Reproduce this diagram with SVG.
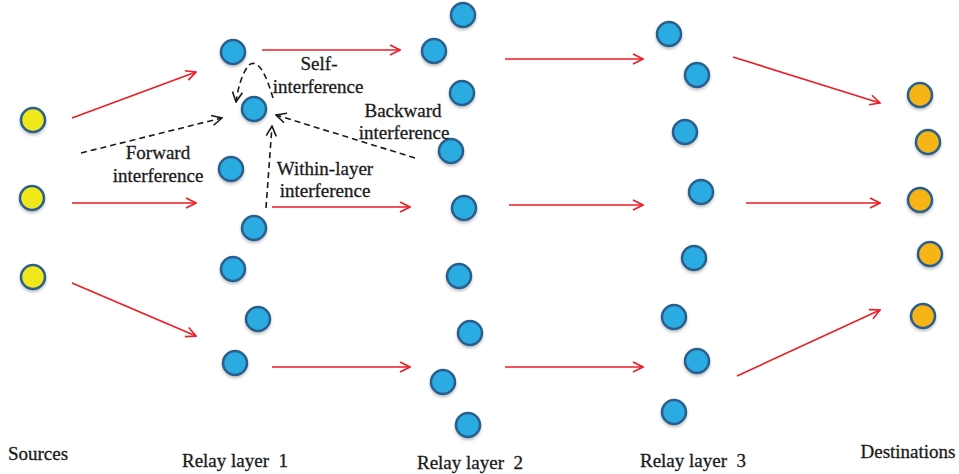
<svg xmlns="http://www.w3.org/2000/svg" width="959" height="474" viewBox="0 0 959 474">
<style>
.n{stroke:#2b5f8c;stroke-width:2.5}
.b{fill:#29abe2}
.y{fill:#f1e81c}
.o{fill:#f7b415}
.r{stroke:#ec1c24;stroke-width:1.6;fill:none;marker-end:url(#ar)}
.d{stroke:#1a1a1a;stroke-width:1.6;fill:none;stroke-dasharray:6 4;marker-end:url(#ad)}
.t{font-size:19px;fill:#1a1a1a;text-anchor:middle;stroke:#1a1a1a;stroke-width:0.3}
</style>
<defs>
<marker id="ar" viewBox="0 0 12 12" refX="11" refY="6" markerWidth="12" markerHeight="12" markerUnits="userSpaceOnUse" orient="auto"><path d="M1,1 L11,6 L1,11" fill="none" stroke="#ec1c24" stroke-width="1.6"/></marker>
<marker id="ad" viewBox="0 0 12 12" refX="11" refY="6" markerWidth="12" markerHeight="12" markerUnits="userSpaceOnUse" orient="auto"><path d="M1,1 L11,6 L1,11" fill="none" stroke="#1a1a1a" stroke-width="1.6"/></marker>
<filter id="sh" x="-50%" y="-50%" width="200%" height="200%"><feGaussianBlur in="SourceAlpha" stdDeviation="1.5"/><feOffset dx="0" dy="1.5"/><feComponentTransfer><feFuncA type="linear" slope="0.25"/></feComponentTransfer><feMerge><feMergeNode/><feMergeNode in="SourceGraphic"/></feMerge></filter>
</defs>
<rect width="959" height="474" fill="#fff"/>
<g id="connectors">
<path class="r" d="M72,118 L196,72"/>
<path class="r" d="M72,203 L196,203"/>
<path class="r" d="M72,283 L196,336"/>
<path class="r" d="M262,50 L400,50"/>
<path class="r" d="M272,207 L410,207"/>
<path class="r" d="M272,367 L410,367"/>
<path class="r" d="M505,59 L643,59"/>
<path class="r" d="M509,205 L643,205"/>
<path class="r" d="M505,367 L643,367"/>
<path class="r" d="M733,57 L880,103"/>
<path class="r" d="M746,203 L880,203"/>
<path class="r" d="M737,376 L880,310"/>
<path class="d" d="M81,153 L222,118"/>
<path class="d" d="M273,98 C266,74 258,58 249,65 C242,73 238,88 236,102"/>
<path class="d" d="M415,158 L276,115"/>
<path class="d" d="M266,208 L272,126"/>
</g>
<g id="sources" filter="url(#sh)">
<circle id="s1" class="n y" cx="33" cy="120" r="12"/>
<circle id="s2" class="n y" cx="32" cy="198" r="12"/>
<circle id="s3" class="n y" cx="33" cy="277" r="12"/>
</g>
<g id="relay1" filter="url(#sh)">
<circle id="r1a" class="n b" cx="233" cy="52" r="12"/>
<circle id="r1b" class="n b" cx="254" cy="109" r="12"/>
<circle id="r1c" class="n b" cx="231" cy="169" r="12"/>
<circle id="r1d" class="n b" cx="254" cy="228" r="12"/>
<circle id="r1e" class="n b" cx="233" cy="269" r="12"/>
<circle id="r1f" class="n b" cx="258" cy="319" r="12"/>
<circle id="r1g" class="n b" cx="235" cy="363" r="12"/>
</g>
<g id="relay2" filter="url(#sh)">
<circle id="r2a" class="n b" cx="463" cy="15" r="12"/>
<circle id="r2b" class="n b" cx="434" cy="51" r="12"/>
<circle id="r2c" class="n b" cx="462" cy="93" r="12"/>
<circle id="r2d" class="n b" cx="451" cy="151" r="12"/>
<circle id="r2e" class="n b" cx="464" cy="208" r="12"/>
<circle id="r2f" class="n b" cx="459" cy="276" r="12"/>
<circle id="r2g" class="n b" cx="470" cy="333" r="12"/>
<circle id="r2h" class="n b" cx="443" cy="382" r="12"/>
<circle id="r2i" class="n b" cx="468" cy="425" r="12"/>
</g>
<g id="relay3" filter="url(#sh)">
<circle id="r3a" class="n b" cx="669" cy="34" r="12"/>
<circle id="r3b" class="n b" cx="697" cy="75" r="12"/>
<circle id="r3c" class="n b" cx="685" cy="132" r="12"/>
<circle id="r3d" class="n b" cx="701" cy="192" r="12"/>
<circle id="r3e" class="n b" cx="694" cy="258" r="12"/>
<circle id="r3f" class="n b" cx="674" cy="317" r="12"/>
<circle id="r3g" class="n b" cx="697" cy="361" r="12"/>
<circle id="r3h" class="n b" cx="674" cy="412" r="12"/>
</g>
<g id="destinations" filter="url(#sh)">
<circle id="d1" class="n o" cx="920" cy="95" r="12"/>
<circle id="d2" class="n o" cx="928" cy="142" r="12"/>
<circle id="d3" class="n o" cx="920" cy="200" r="12"/>
<circle id="d4" class="n o" cx="930" cy="254" r="12"/>
<circle id="d5" class="n o" cx="923" cy="316" r="12"/>
</g>
<g id="labels" font-family="Liberation Serif, Times New Roman, serif">
<text class="t" x="158" y="159">Forward</text>
<text class="t" x="158" y="182">interference</text>
<text class="t" x="319" y="70">Self-</text>
<text class="t" x="318" y="93">interference</text>
<text class="t" x="403" y="117">Backward</text>
<text class="t" x="404" y="139">interference</text>
<text class="t" x="325" y="175">Within-layer</text>
<text class="t" x="325" y="197">interference</text>
<text class="t" x="38" y="460">Sources</text>
<text class="t" x="235" y="467" xml:space="preserve">Relay layer  1</text>
<text class="t" x="470" y="469" xml:space="preserve">Relay layer  2</text>
<text class="t" x="693" y="467" xml:space="preserve">Relay layer  3</text>
<text class="t" x="908" y="458">Destinations</text>
</g>
</svg>
